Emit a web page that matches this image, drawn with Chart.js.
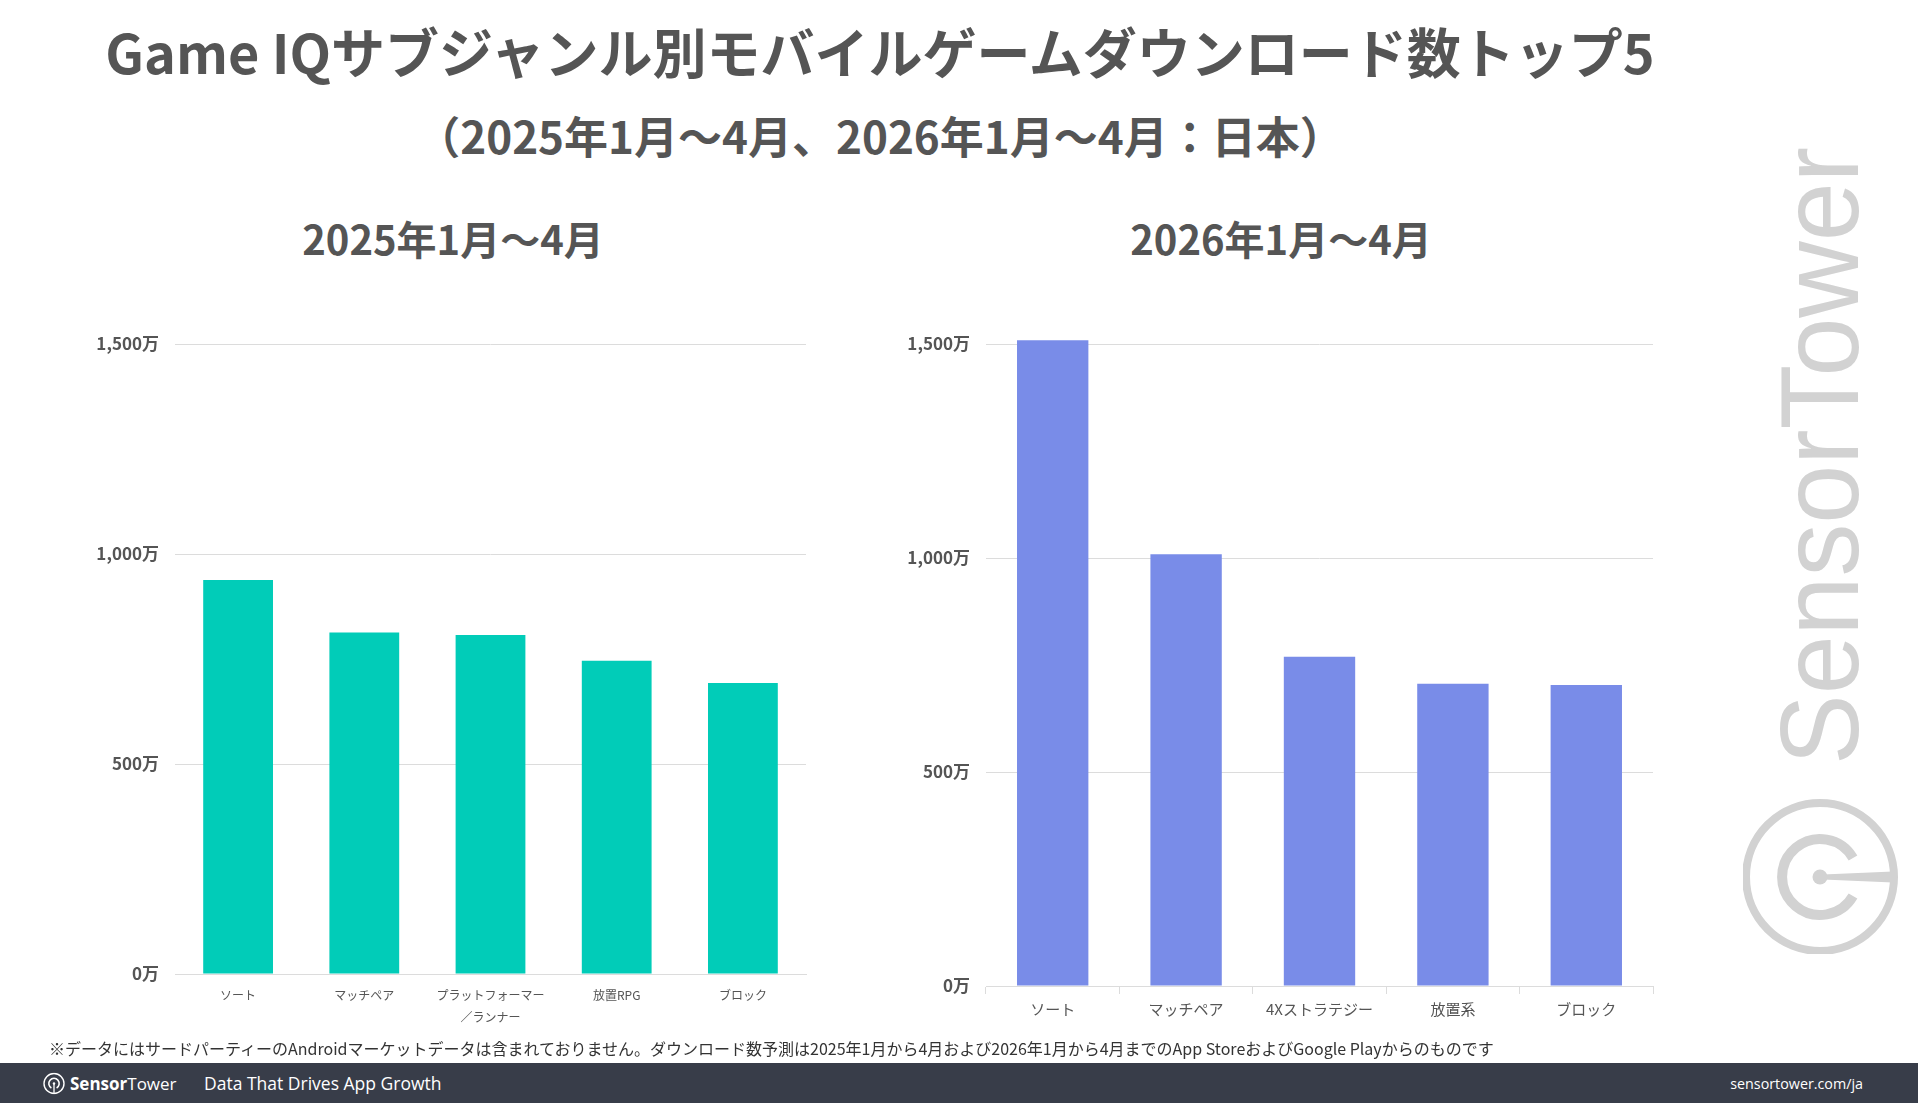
<!DOCTYPE html>
<html lang="ja">
<head>
<meta charset="utf-8">
<script src="https://cdn.jsdelivr.net/npm/chart.js@4.4.1/dist/chart.umd.min.js"></script>
<style>
  html, body { margin: 0; padding: 0; }
  body {
    width: 1918px; height: 1103px; position: relative; overflow: hidden;
    background: #fff; font-family: "Noto Sans CJK JP", "Noto Sans", sans-serif; color: #555;
  }
  .txt { position: absolute; white-space: nowrap; line-height: 1; transform: translate(-50%, -50%); font-weight: 700; }
  #title { left: 880px; top: 51px; font-size: 54px; }
  #subtitle { left: 880px; top: 135px; font-size: 44px; }
  #sub1 { left: 453px; top: 238px; font-size: 40px; }
  #sub2 { left: 1281px; top: 238px; font-size: 40px; }
  canvas { position: absolute; }
  #c1 { left: 60px; top: 300px; }
  #c2 { left: 880px; top: 300px; }
  #note { position: absolute; left: 49px; top: 1048px; transform: translateY(-50%); font-size: 16px; color: #333; white-space: nowrap; line-height: 1; }
  #footer { position: absolute; left: 0; top: 1063px; width: 1918px; height: 40px; background: #383d49; color: #fff; }
  #footer .brand { position: absolute; left: 43px; top: 20px; transform: translateY(-50%); display: flex; align-items: center; gap: 5px; font-size: 17px; font-family: "Open Sans", sans-serif; }
  #footer .tag { position: absolute; left: 204px; top: 20px; transform: translateY(-50%); font-size: 17.5px; font-family: "Open Sans", sans-serif; }
  #footer .url { position: absolute; right: 55px; top: 20px; transform: translateY(-50%); font-size: 14.3px; font-family: "Open Sans", sans-serif; }
  #wm { position: absolute; left: 1743px; top: 954px; width: 810px; height: 160px; transform-origin: 0 0; transform: rotate(-90deg); }
</style>
</head>
<body>
<div class="txt" id="title">Game IQサブジャンル別モバイルゲームダウンロード数トップ5</div>
<div class="txt" id="subtitle">（2025年1月～4月、2026年1月～4月：日本）</div>
<div class="txt" id="sub1">2025年1月～4月</div>
<div class="txt" id="sub2">2026年1月～4月</div>

<canvas id="c1" width="780" height="740"></canvas>
<canvas id="c2" width="800" height="740"></canvas>

<svg id="wm" viewBox="0 0 810 160">
  <g fill="none" stroke="#d2d2d2">
    <circle cx="77" cy="77" r="74" stroke-width="8"/>
    <path d="M 58 110 A 38 38 0 1 1 96 110" stroke-width="10"/>
  </g>
  <g fill="#d2d2d2">
    <circle cx="77" cy="77" r="7.5"/>
    <polygon points="74.5,80 79.5,80 82.5,150 71.5,150"/>
  </g>
  <text x="189" y="115" font-family="Liberation Sans, Arial, sans-serif" font-size="112" fill="#d2d2d2" textLength="618" lengthAdjust="spacingAndGlyphs">SensorTower</text>
</svg>

<div id="note">※データにはサードパーティーのAndroidマーケットデータは含まれておりません。ダウンロード数予測は2025年1月から4月および2026年1月から4月までのApp StoreおよびGoogle Playからのものです</div>

<div id="footer">
  <div class="brand">
    <svg width="22" height="22" viewBox="0 0 22 22">
      <g fill="none" stroke="#fff" stroke-linecap="butt">
        <circle cx="11" cy="11" r="10" stroke-width="1.4"/>
        <path d="M 8.4 15.5 A 5.2 5.2 0 1 1 13.6 15.5" stroke-width="1.6"/>
        <line x1="11" y1="11" x2="11" y2="21" stroke-width="1.3"/>
      </g>
      <circle cx="11" cy="11" r="1.2" fill="#fff"/>
    </svg>
    <span><b>Sensor</b>Tower</span>
  </div>
  <div class="tag">Data That Drives App Growth</div>
  <div class="url">sensortower.com/ja</div>
</div>

<script>
// 2025年1月～4月 (単位: 万)
const labels2025 = ['ソート', 'マッチペア', ['プラットフォーマー', '／ランナー'], '放置RPG', 'ブロック'];
const values2025 = [938, 813, 807, 746, 693];

// 2026年1月～4月 (単位: 万)
const labels2026 = ['ソート', 'マッチペア', '4Xストラテジー', '放置系', 'ブロック'];
const values2026 = [1509, 1009, 769, 706, 703];

const yTicks = [0, 500, 1000, 1500];

const fontFamily = '"Noto Sans CJK JP", "Noto Sans", sans-serif';
const gridColor = '#dcdcdc';

function fmt(v) {
    return v.toLocaleString('en-US') + '万';
}

function makeChart(id, labels, values, color, opts) {
    const ctx = document.getElementById(id).getContext('2d');
    return new Chart(ctx, {
        type: 'bar',
        data: {
            labels: labels,
            datasets: [{
                data: values,
                backgroundColor: color,
                borderWidth: 0,
                barPercentage: opts.barPct,
                categoryPercentage: 1.0,
                clip: false
            }]
        },
        options: {
            responsive: false,
            animation: false,
            layout: { padding: { top: 44, right: opts.padRight, bottom: 0, left: 0 } },
            plugins: {
                legend: { display: false },
                tooltip: { enabled: false }
            },
            scales: {
                x: {
                    afterFit: (scale) => { scale.height = opts.xHeight; },
                    border: { display: true, color: gridColor, width: 1 },
                    grid: {
                        display: opts.xTicks,
                        drawOnChartArea: false,
                        drawTicks: true,
                        tickLength: 8,
                        color: gridColor
                    },
                    ticks: {
                        color: '#555',
                        padding: opts.xPad,
                        maxRotation: 0,
                        autoSkip: false,
                        font: { family: fontFamily, size: opts.xFont, lineHeight: opts.xLine }
                    }
                },
                y: {
                    min: 0,
                    max: 1500,
                    afterFit: (scale) => { scale.width = opts.yWidth; },
                    afterBuildTicks: (scale) => { scale.ticks = yTicks.map(v => ({ value: v })); },
                    border: { display: false },
                    grid: { color: gridColor, lineWidth: 1, drawTicks: false },
                    ticks: {
                        color: '#555',
                        padding: 16,
                        callback: (v) => fmt(v),
                        font: { family: fontFamily, size: 17, weight: 'bold' }
                    }
                }
            }
        }
    });
}

makeChart('c1', labels2025, values2025, '#01ccb8', {
    barPct: 0.553, padRight: 34, xHeight: 66, yWidth: 115,
    xTicks: false, xPad: 3, xFont: 12, xLine: 1.8
});

makeChart('c2', labels2026, values2026, '#798ce8', {
    barPct: 0.535, padRight: 27, xHeight: 54, yWidth: 106,
    xTicks: true, xPad: 6, xFont: 15, xLine: 1.2
});
</script>
</body>
</html>
